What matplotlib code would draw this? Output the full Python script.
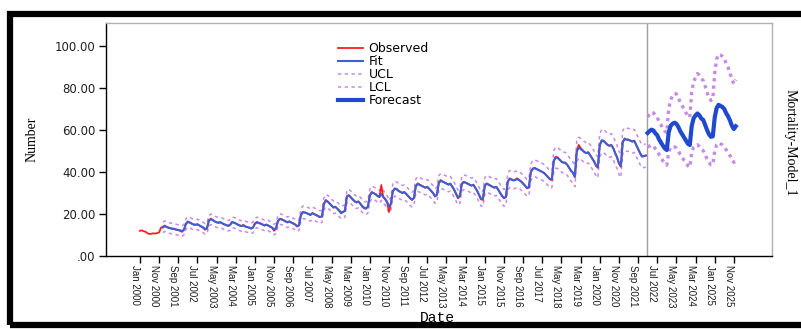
import numpy as np
import matplotlib
matplotlib.use("Agg")
import matplotlib.pyplot as plt
from matplotlib.patches import Rectangle
from matplotlib import font_manager

# ---------------- data (monthly) ----------------
# Observed: Jan 2000 .. Jan 2022
observed = [
    12.0, 12.2, 11.8, 11.5, 10.8, 10.5, 10.6, 10.8, 10.7, 10.9, 11.2, 13.5,
    14.0, 14.5, 13.8, 13.5, 13.2, 13.0, 12.8, 12.5, 12.3, 12.0, 11.5, 12.5,
    15.5, 16.5, 16.0, 15.5, 15.0, 14.8, 15.2, 14.5, 14.0, 13.5, 12.5, 13.0,
    17.0, 17.8, 17.2, 16.5, 16.0, 15.8, 16.2, 15.5, 15.0, 14.8, 14.3, 14.8,
    16.2, 16.0, 15.5, 15.0, 14.5, 14.2, 14.8, 14.0, 13.8, 13.5, 13.0, 13.5,
    15.5, 16.2, 15.8, 15.5, 15.0, 14.5, 15.0, 14.5, 14.0, 13.5, 12.0, 13.0,
    16.5, 17.8, 17.5, 17.0, 16.5, 16.0, 16.5, 16.0, 15.5, 15.0, 14.0, 14.5,
    19.5, 21.0, 20.8, 20.5, 20.0, 19.5, 20.5, 20.0, 19.5, 19.0, 18.5, 18.7,
    25.0, 26.7, 26.0, 25.0, 24.0, 23.0, 23.5, 22.5, 21.5, 20.3, 21.0, 21.5,
    28.5, 29.0, 28.0, 27.0, 26.0, 25.5, 26.0, 25.0, 23.5, 22.7, 22.5, 23.5,
    29.0, 30.5, 30.0, 29.5, 28.5, 28.0, 33.8, 28.0, 27.0, 25.5, 21.0, 25.0,
    31.0, 32.2, 32.0, 31.0, 30.5, 30.0, 30.5, 29.5, 28.5, 27.5, 26.7, 27.5,
    33.5, 34.6, 34.0, 33.5, 33.0, 32.5, 33.0, 32.0, 31.0, 30.0, 28.3, 29.0,
    35.0, 36.2, 35.5, 35.0, 34.5, 34.0, 34.5, 33.0, 31.5, 29.5, 27.5, 28.5,
    34.5, 35.4, 35.0, 34.5, 34.0, 33.5, 34.0, 32.5, 31.0, 29.0, 27.0, 26.7,
    33.5, 34.6, 34.0, 33.5, 33.0, 32.5, 33.0, 31.5, 30.0, 28.5, 27.5, 28.0,
    35.5, 37.0, 36.5, 36.0, 36.5, 37.0, 36.2, 35.5, 34.5, 33.5, 32.2, 32.5,
    40.0, 41.7, 42.0, 41.5, 41.0, 40.5, 40.0, 39.5, 38.5, 37.5, 36.5, 36.2,
    45.5, 47.3, 47.0, 46.0, 45.0, 44.5, 44.5, 43.5, 42.0, 40.5, 39.5, 37.5,
    50.0, 52.9, 51.5, 50.5, 49.5, 49.0, 49.5, 48.0, 46.5, 45.0, 43.0, 42.0,
    53.0, 55.2, 55.0, 54.0, 53.0, 52.5, 53.0, 51.5, 49.0, 47.0, 44.0, 42.5,
    54.5, 56.0, 55.5, 55.5, 55.0, 54.5, 55.0, 53.0, 51.0, 48.9, 47.3, 47.5,
    47.8,
]

# Fit: Jan 2001 .. Jan 2022
fit = [
    13.6, 14.2, 13.8, 13.4, 13.2, 13.0, 12.9, 12.6, 12.4, 12.2, 11.9, 12.6,
    15.2, 16.2, 15.9, 15.4, 15.0, 14.9, 15.0, 14.6, 14.1, 13.6, 12.9, 13.2,
    16.8, 17.5, 17.1, 16.5, 16.1, 15.9, 16.0, 15.6, 15.1, 14.8, 14.4, 14.7,
    16.0, 15.9, 15.5, 15.0, 14.6, 14.3, 14.6, 14.1, 13.8, 13.5, 13.2, 13.5,
    15.3, 16.0, 15.7, 15.4, 15.0, 14.6, 14.9, 14.5, 14.0, 13.5, 12.6, 13.2,
    16.6, 17.6, 17.4, 17.0, 16.5, 16.1, 16.4, 16.0, 15.5, 15.0, 14.3, 14.6,
    19.3, 20.8, 20.7, 20.4, 20.0, 19.6, 20.3, 19.9, 19.5, 19.0, 18.6, 18.9,
    24.6, 26.3, 25.9, 25.0, 24.1, 23.2, 23.4, 22.6, 21.7, 20.8, 21.0, 21.5,
    28.2, 28.8, 28.0, 27.1, 26.2, 25.6, 25.9, 25.0, 23.8, 23.0, 22.8, 23.5,
    28.8, 30.2, 29.9, 29.4, 28.7, 28.2, 29.5, 28.2, 27.2, 25.8, 23.5, 25.0,
    30.8, 32.0, 31.8, 31.0, 30.5, 30.1, 30.4, 29.6, 28.6, 27.6, 26.9, 27.6,
    33.2, 34.3, 33.9, 33.4, 33.0, 32.6, 32.9, 32.0, 31.0, 30.0, 28.6, 29.2,
    34.8, 35.8, 35.4, 35.0, 34.5, 34.1, 34.4, 33.1, 31.6, 29.7, 27.9, 28.6,
    34.3, 35.2, 34.9, 34.5, 34.0, 33.6, 33.9, 32.6, 31.1, 29.2, 27.3, 27.2,
    33.4, 34.4, 34.0, 33.5, 33.0, 32.6, 32.9, 31.6, 30.1, 28.7, 27.7, 28.2,
    35.4, 36.7, 36.4, 36.0, 36.3, 36.6, 36.1, 35.4, 34.5, 33.5, 32.5, 32.8,
    39.8, 41.5, 41.8, 41.4, 41.0, 40.5, 40.1, 39.5, 38.6, 37.6, 36.7, 36.5,
    45.2, 46.8, 46.7, 45.9, 45.0, 44.5, 44.4, 43.5, 42.1, 40.7, 39.7, 38.0,
    49.7, 51.6, 51.0, 50.3, 49.5, 49.0, 49.3, 48.0, 46.6, 45.1, 43.3, 42.3,
    52.6, 54.8, 54.7, 53.9, 53.0, 52.5, 52.8, 51.5, 49.2, 47.2, 44.4, 43.0,
    54.2, 55.7, 55.4, 55.3, 54.9, 54.5, 54.8, 53.0, 51.1, 49.2, 47.6, 47.6,
    47.9,
]

# Upper / lower confidence limits over the fit period: Jan 2001 .. Jan 2022
ucl_fit = [
    16.1, 16.7, 16.3, 15.9, 15.7, 15.5, 15.4, 15.1, 14.9, 14.7, 14.4, 15.1,
    17.7, 18.7, 18.4, 17.9, 17.5, 17.4, 17.5, 17.1, 16.6, 16.1, 15.4, 15.7,
    19.3, 20.0, 19.6, 19.0, 18.6, 18.4, 18.5, 18.1, 17.6, 17.3, 16.9, 17.2,
    18.5, 18.4, 18.0, 17.5, 17.1, 16.8, 17.1, 16.6, 16.3, 16.0, 15.7, 16.0,
    17.8, 18.5, 18.2, 17.9, 17.5, 17.1, 17.4, 17.0, 16.5, 16.0, 15.1, 15.7,
    19.1, 20.1, 19.9, 19.5, 19.0, 18.6, 18.9, 18.5, 18.0, 17.5, 16.8, 17.1,
    22.3, 23.8, 23.7, 23.4, 23.0, 22.6, 23.3, 22.9, 22.5, 22.0, 21.6, 21.9,
    27.6, 29.3, 28.9, 28.0, 27.1, 26.2, 26.4, 25.6, 24.7, 23.8, 24.0, 24.5,
    31.2, 31.8, 31.0, 30.1, 29.2, 28.6, 28.9, 28.0, 26.8, 26.0, 25.8, 26.5,
    31.8, 33.2, 32.9, 32.4, 31.7, 31.2, 32.5, 31.2, 30.2, 28.8, 26.5, 28.0,
    34.3, 35.5, 35.3, 34.5, 34.0, 33.6, 33.9, 33.1, 32.1, 31.1, 30.4, 31.1,
    36.7, 37.8, 37.4, 36.9, 36.5, 36.1, 36.4, 35.5, 34.5, 33.5, 32.1, 32.7,
    38.3, 39.3, 38.9, 38.5, 38.0, 37.6, 37.9, 36.6, 35.1, 33.2, 31.4, 32.1,
    37.8, 38.7, 38.4, 38.0, 37.5, 37.1, 37.4, 36.1, 34.6, 32.7, 30.8, 30.7,
    37.4, 38.4, 38.0, 37.5, 37.0, 36.6, 36.9, 35.6, 34.1, 32.7, 31.7, 32.2,
    39.4, 40.7, 40.4, 40.0, 40.3, 40.6, 40.1, 39.4, 38.5, 37.5, 36.5, 36.8,
    43.8, 45.5, 45.8, 45.4, 45.0, 44.5, 44.1, 43.5, 42.6, 41.6, 40.7, 40.5,
    50.2, 51.8, 51.7, 50.9, 50.0, 49.5, 49.4, 48.5, 47.1, 45.7, 44.7, 43.0,
    54.7, 56.6, 56.0, 55.3, 54.5, 54.0, 54.3, 53.0, 51.6, 50.1, 48.3, 47.3,
    58.1, 60.3, 60.2, 59.4, 58.5, 58.0, 58.3, 57.0, 54.7, 52.7, 49.9, 48.5,
    59.7, 61.2, 60.9, 60.8, 60.4, 60.0, 60.3, 58.5, 56.6, 54.7, 53.1, 53.1,
    53.4,
]
lcl_fit = [
    11.1, 11.7, 11.3, 10.9, 10.7, 10.5, 10.4, 10.1, 9.9, 9.7, 9.4, 10.1,
    12.7, 13.7, 13.4, 12.9, 12.5, 12.4, 12.5, 12.1, 11.6, 11.1, 10.4, 10.7,
    14.3, 15.0, 14.6, 14.0, 13.6, 13.4, 13.5, 13.1, 12.6, 12.3, 11.9, 12.2,
    13.5, 13.4, 13.0, 12.5, 12.1, 11.8, 12.1, 11.6, 11.3, 11.0, 10.7, 11.0,
    12.8, 13.5, 13.2, 12.9, 12.5, 12.1, 12.4, 12.0, 11.5, 11.0, 10.1, 10.7,
    14.1, 15.1, 14.9, 14.5, 14.0, 13.6, 13.9, 13.5, 13.0, 12.5, 11.8, 12.1,
    16.3, 17.8, 17.7, 17.4, 17.0, 16.6, 17.3, 16.9, 16.5, 16.0, 15.6, 15.9,
    21.6, 23.3, 22.9, 22.0, 21.1, 20.2, 20.4, 19.6, 18.7, 17.8, 18.0, 18.5,
    25.2, 25.8, 25.0, 24.1, 23.2, 22.6, 22.9, 22.0, 20.8, 20.0, 19.8, 20.5,
    25.8, 27.2, 26.9, 26.4, 25.7, 25.2, 26.5, 25.2, 24.2, 22.8, 20.5, 22.0,
    27.3, 28.5, 28.3, 27.5, 27.0, 26.6, 26.9, 26.1, 25.1, 24.1, 23.4, 24.1,
    29.7, 30.8, 30.4, 29.9, 29.5, 29.1, 29.4, 28.5, 27.5, 26.5, 25.1, 25.7,
    31.3, 32.3, 31.9, 31.5, 31.0, 30.6, 30.9, 29.6, 28.1, 26.2, 24.4, 25.1,
    30.8, 31.7, 31.4, 31.0, 30.5, 30.1, 30.4, 29.1, 27.6, 25.7, 23.8, 23.7,
    29.4, 30.4, 30.0, 29.5, 29.0, 28.6, 28.9, 27.6, 26.1, 24.7, 23.7, 24.2,
    31.4, 32.7, 32.4, 32.0, 32.3, 32.6, 32.1, 31.4, 30.5, 29.5, 28.5, 28.8,
    35.8, 37.5, 37.8, 37.4, 37.0, 36.5, 36.1, 35.5, 34.6, 33.6, 32.7, 32.5,
    40.2, 41.8, 41.7, 40.9, 40.0, 39.5, 39.4, 38.5, 37.1, 35.7, 34.7, 33.0,
    44.7, 46.6, 46.0, 45.3, 44.5, 44.0, 44.3, 43.0, 41.6, 40.1, 38.3, 37.3,
    47.1, 49.3, 49.2, 48.4, 47.5, 47.0, 47.3, 46.0, 43.7, 41.7, 38.9, 37.5,
    48.7, 50.2, 49.9, 49.8, 49.4, 49.0, 49.3, 47.5, 45.6, 43.7, 42.1, 42.1,
    42.4,
]

# Forecast period: Feb 2022 .. Dec 2025
forecast = [
    58.6, 59.5, 60.2, 59.8, 58.5, 57.5, 55.5, 54.0, 52.5, 51.2, 50.5,
    59.0, 62.0, 63.0, 63.5, 63.0, 61.5, 59.5, 58.0, 56.5, 55.0, 53.5, 52.9,
    62.0, 65.6, 67.0, 67.9, 67.0, 65.5, 64.8, 62.5, 60.0, 58.0, 56.8, 57.0,
    66.0, 70.5, 72.0, 71.5, 71.0, 70.0, 68.0, 66.5, 64.5, 62.0, 60.5, 61.8,
]
ucl_fc = [
    66.2, 67.5, 68.6, 68.2, 67.0, 66.1, 63.8, 62.4, 60.9, 59.4, 58.8,
    70.2, 74.4, 76.2, 77.5, 77.2, 75.6, 73.2, 71.6, 70.1, 68.2, 66.6, 66.1,
    78.1, 83.0, 85.1, 86.9, 86.1, 84.5, 83.6, 80.9, 78.0, 75.4, 74.1, 74.7,
    87.1, 93.8, 96.1, 95.8, 95.1, 94.2, 91.5, 89.8, 87.1, 84.0, 82.0, 84.0,
]
lcl_fc = [
    51.9, 52.4, 52.8, 52.5, 51.1, 50.0, 48.3, 46.8, 45.3, 44.1, 43.3,
    49.6, 51.7, 52.1, 52.0, 51.4, 50.0, 48.4, 47.0, 45.6, 44.4, 43.0, 42.3,
    49.2, 51.9, 52.8, 53.0, 52.1, 50.8, 50.2, 48.3, 46.2, 44.6, 43.5, 43.5,
    50.0, 53.0, 53.9, 53.4, 53.0, 52.0, 50.6, 49.3, 47.8, 45.8, 44.6, 45.4,
]

tick_labels = [
    "Jan 2000", "Nov 2000", "Sep 2001", "Jul 2002", "May 2003", "Mar 2004",
    "Jan 2005", "Nov 2005", "Sep 2006", "Jul 2007", "May 2008", "Mar 2009",
    "Jan 2010", "Nov 2010", "Sep 2011", "Jul 2012", "May 2013", "Mar 2014",
    "Jan 2015", "Nov 2015", "Sep 2016", "Jul 2017", "May 2018", "Mar 2019",
    "Jan 2020", "Nov 2020", "Sep 2021", "Jul 2022", "May 2023", "Mar 2024",
    "Jan 2025", "Nov 2025",
]
y_ticks = [0, 20, 40, 60, 80, 100]

# month index (0 = Jan 2000)
OBS_START, FIT_START, FC_START = 0, 12, 265


def has_font(name):
    try:
        font_manager.findfont(font_manager.FontProperties(family=name),
                              fallback_to_default=False)
        return True
    except Exception:
        return False


if has_font("Liberation Sans Narrow"):
    XT_FAMILY, XT_SIZE = "Liberation Sans Narrow", 7.8
else:
    XT_FAMILY, XT_SIZE = "Liberation Sans", 7.0

# ---------------- figure ----------------
W, H = 801, 329
fig = plt.figure(figsize=(W / 100, H / 100), dpi=100)
fig.patch.set_facecolor("white")

# outer black frame
fig.patches.append(Rectangle((10 / W, 1 - 325 / H), (820 - 10) / W, (325 - 14) / H,
                             transform=fig.transFigure, fill=False,
                             edgecolor="black", linewidth=4.5, zorder=0))

ax = fig.add_axes([106 / W, 1 - 256 / H, (772 - 106) / W, (256 - 23) / H])

RED = "#ff1e1e"
FITBLUE = "#3c5fd6"
FCBLUE = "#2049d0"
PURPLE = "#c58be6"

x_obs = np.arange(len(observed)) + OBS_START
x_fit = np.arange(len(fit)) + FIT_START
x_fc = np.arange(len(forecast)) + FC_START

ax.plot(x_obs, observed, color=RED, lw=1.3, label="Observed", zorder=3)
ax.plot(x_fit, fit, color=FITBLUE, lw=1.5, label="Fit", zorder=4)
ax.plot(x_fit, ucl_fit, color=PURPLE, lw=1.1, ls=(0, (2.2, 2.2)), label="UCL", zorder=2)
ax.plot(x_fit, lcl_fit, color=PURPLE, lw=1.1, ls=(0, (2.2, 2.2)), label="LCL", zorder=2)
ax.plot(x_fc, ucl_fc, color=PURPLE, lw=2.4, ls=(0, (1.0, 1.2)), zorder=2)
ax.plot(x_fc, lcl_fc, color=PURPLE, lw=2.4, ls=(0, (1.0, 1.2)), zorder=2)
ax.plot(x_fc, forecast, color=FCBLUE, lw=3.0, label="Forecast", zorder=5)

ax.axvline(FC_START - 0.5, color="#a0a0a0", lw=1.0, zorder=1)

ax.set_xlim(-17.7, 329.9)
ax.set_ylim(0, 111)

for s in ("top", "right"):
    ax.spines[s].set_color("#b0b0b0")
    ax.spines[s].set_linewidth(1.0)
for s in ("left", "bottom"):
    ax.spines[s].set_color("black")
    ax.spines[s].set_linewidth(1.0)

ax.set_yticks(y_ticks)
ax.set_yticklabels([".00" if v == 0 else f"{v:.2f}" for v in y_ticks],
                   fontsize=8.5, family="DejaVu Sans", color="#202020")
ax.tick_params(axis="y", length=5, width=1, pad=2.5)

ax.set_xticks(np.arange(len(tick_labels)) * 10)
ax.set_xticklabels(tick_labels)
ax.tick_params(axis="x", length=5, width=1, pad=1.5)
for lab in ax.get_xticklabels():
    lab.set_rotation(-90)
    lab.set_rotation_mode("anchor")
    lab.set_ha("left")
    lab.set_va("top")
    lab.set_fontsize(XT_SIZE)
    lab.set_family(XT_FAMILY)
    lab.set_color("#1a1a1a")

leg = ax.legend(loc="upper left", bbox_to_anchor=((338 - 106) / 666, (256 - 42) / 233),
                frameon=False, handlelength=2.0, handletextpad=0.45,
                labelspacing=0.0, borderpad=0, borderaxespad=0,
                prop={"family": "DejaVu Sans", "size": 9})

fig.text(32 / W, 1 - 139 / H, "Number", rotation=90, ha="center", va="center",
         family="Liberation Serif", fontsize=10)
fig.text(437 / W, 1 - 318 / H, "Date", ha="center", va="center",
         family="Liberation Mono", fontsize=10.5)
fig.text(790 / W, 1 - 143 / H, "Mortality-Model_1", rotation=-90, ha="center",
         va="center", family="Liberation Serif", fontsize=10)

fig.savefig("out.png", dpi=100, facecolor="white")
